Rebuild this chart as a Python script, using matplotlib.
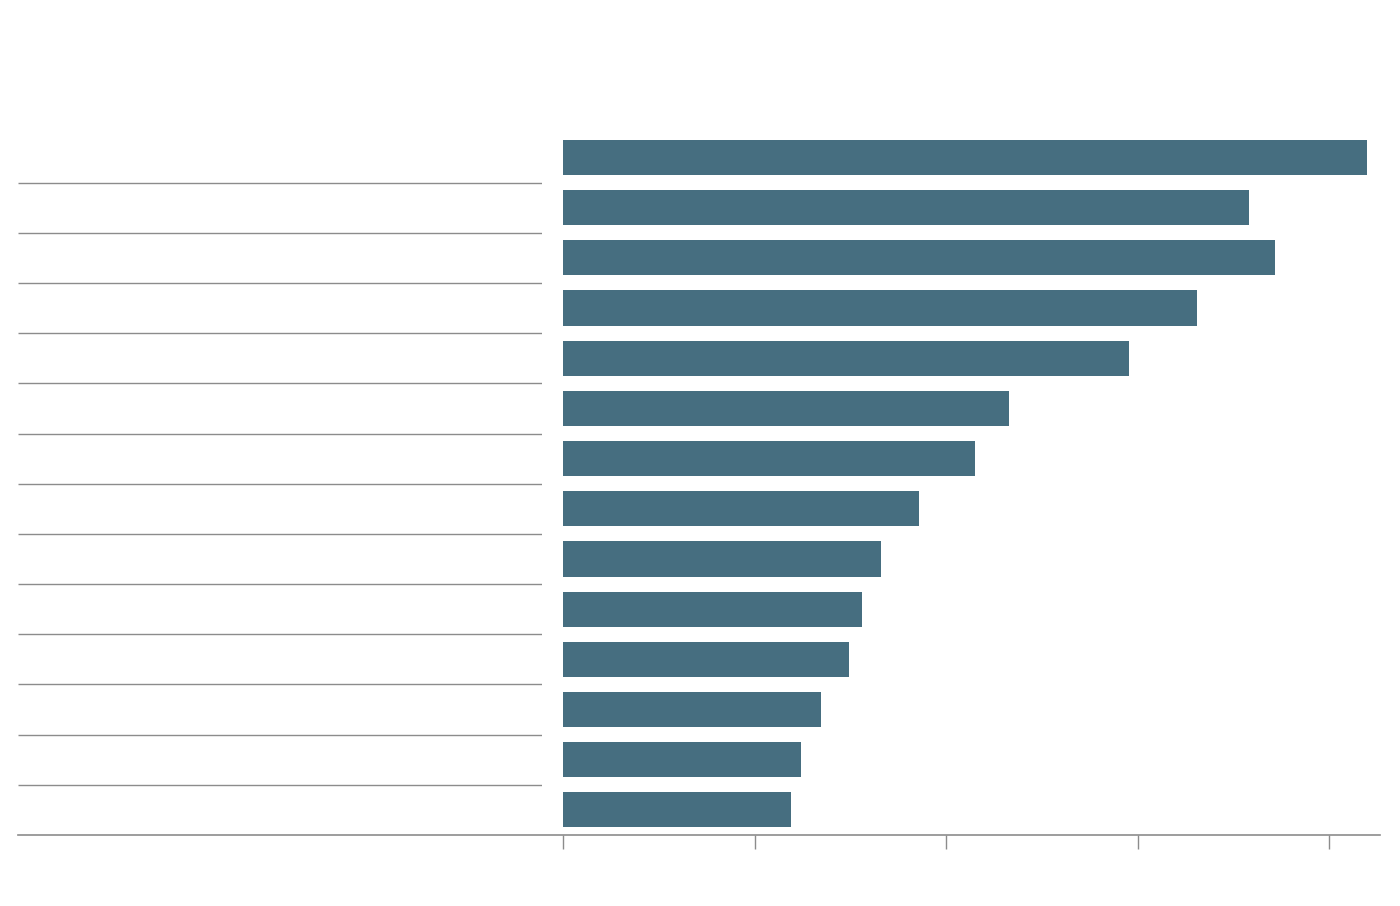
import matplotlib
matplotlib.use('Agg')
import matplotlib.pyplot as plt
from matplotlib.lines import Line2D

# 数据：从上到下的条形长度（以刻度单位计）
rows = list(range(14))
values = [4.196, 3.582, 3.718, 3.311, 2.956, 2.329, 2.151, 1.859, 1.661, 1.561, 1.494, 1.345, 1.245, 1.191]
ticks = [0, 1, 2, 3, 4]

bar_color = '#466e80'
line_color = '#8c8c8c'

W, H = 1400, 906
fig = plt.figure(figsize=(W / 100, H / 100), dpi=100)

bottom = (H - 835) / H
height = (835 - 132.4) / H

# 右侧条形图
ax = fig.add_axes([563 / W, bottom, (1380 - 563) / W, height])
ax.barh(rows, values, height=0.7, color=bar_color)
ax.set_ylim(len(rows) - 0.5, -0.5)
ax.set_xlim(0, 4.266)
ax.set_xticks(ticks)
ax.set_xticklabels([])
ax.set_yticks([])
for s in ['top', 'right', 'left', 'bottom']:
    ax.spines[s].set_visible(False)
ax.tick_params(axis='x', length=10, width=1, color=line_color, direction='out')

# 左侧分隔线
ax0 = fig.add_axes([18 / W, bottom, (542 - 18) / W, height])
ax0.set_ylim(len(rows) - 0.5, -0.5)
ax0.set_xlim(0, 1)
ax0.hlines([r + 0.5 for r in rows[:-1]], 0, 1, color=line_color, lw=1)
ax0.axis('off')

# 底部贯通的轴线
fig.add_artist(Line2D([18 / W, 1380 / W], [bottom, bottom], color=line_color, lw=1.2))

fig.savefig('out.png', dpi=100, facecolor='white')
